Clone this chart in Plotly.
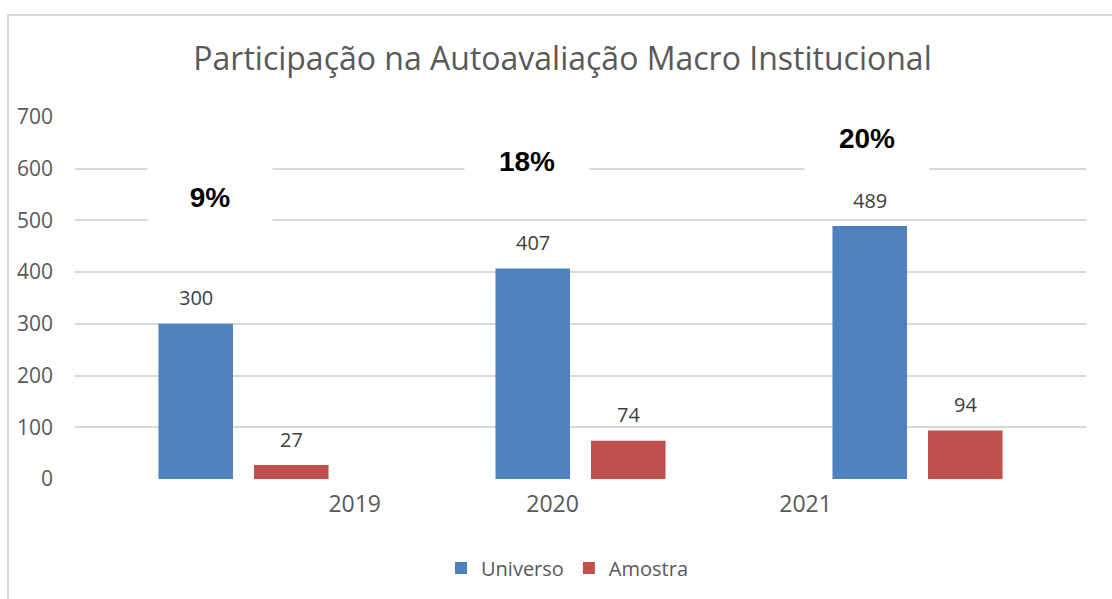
import plotly.graph_objects as go

# ---- data ----
years = ["2019", "2020", "2021"]
universo = [300, 407, 489]
amostra = [27, 74, 94]
pct_labels = ["9%", "18%", "20%"]
y_ticks = [0, 100, 200, 300, 400, 500, 600, 700]

# ---- layout geometry (pixels) ----
W, H = 1112, 599
L, R, T, B = 75, 26, 117, 120
PW = W - L - R
PH = H - T - B


def px(x):
    return (x - L) / PW


def py(y):
    return (H - B - y) / PH


FONT = "Open Sans"
GREY = "#595959"
LABEL = "#404040"

xidx = list(range(len(years)))

fig = go.Figure()
fig.add_bar(x=xidx, y=universo, name="Universo", marker=dict(color="#4F81BD", line=dict(width=0)))
fig.add_bar(x=xidx, y=amostra, name="Amostra", marker=dict(color="#C0504D", line=dict(width=0)))

# data labels above bars
off = 0.1417
for series, sgn in ((universo, -1), (amostra, 1)):
    for i, v in enumerate(series):
        fig.add_annotation(x=i + sgn * off, y=v, text=str(v), showarrow=False,
                           yshift=26, yanchor="middle", xanchor="center",
                           font=dict(family=FONT, size=20, color=LABEL))

# percentage boxes
pct_pos = [(210, 197), (527, 161), (867, 138)]
for (xp, yp), t in zip(pct_pos, pct_labels):
    fig.add_annotation(xref="paper", yref="paper", x=px(xp), y=py(yp),
                       text="<b>" + t + "</b>", showarrow=False,
                       bgcolor="white", width=124, height=66, borderpad=0,
                       xanchor="center", yanchor="middle",
                       font=dict(family="Liberation Sans", size=28, color="black"))

# outer border
fig.add_shape(type="rect", xref="paper", yref="paper",
              x0=px(8), y0=py(15), x1=px(1130), y1=py(620),
              line=dict(color="#D9D9D9", width=2), fillcolor="rgba(0,0,0,0)", layer="below")

fig.update_layout(
    width=W, height=H,
    margin=dict(l=L, r=R, t=T, b=B),
    paper_bgcolor="white", plot_bgcolor="white",
    barmode="group", bargap=0.433, bargroupgap=0.22,
    title=dict(text="Participação na Autoavaliação Macro Institucional",
               xref="paper", x=px(562.5), xanchor="center",
               yref="container", y=1 - 59 / H, yanchor="middle",
               font=dict(family=FONT, size=32, color=GREY)),
    xaxis=dict(range=[-0.5, 2.5], tickvals=[0.33, 0.917, 1.668], ticktext=years,
               showgrid=False, zeroline=False, showline=False, ticks="",
               ticklabelstandoff=9,
               tickfont=dict(family=FONT, size=23, color=GREY)),
    yaxis=dict(range=[0, 700], tickvals=y_ticks, showgrid=True,
               gridcolor="#D9D9D9", gridwidth=1.5, zeroline=False, showline=False,
               ticks="", ticklabelstandoff=21,
               tickfont=dict(family=FONT, size=21, color=GREY)),
    legend=dict(orientation="h", x=px(567), xanchor="center", y=py(568), yanchor="middle",
                font=dict(family=FONT, size=20, color=GREY), bgcolor="rgba(0,0,0,0)"),
    showlegend=True,
)

fig.write_html("out.html")
